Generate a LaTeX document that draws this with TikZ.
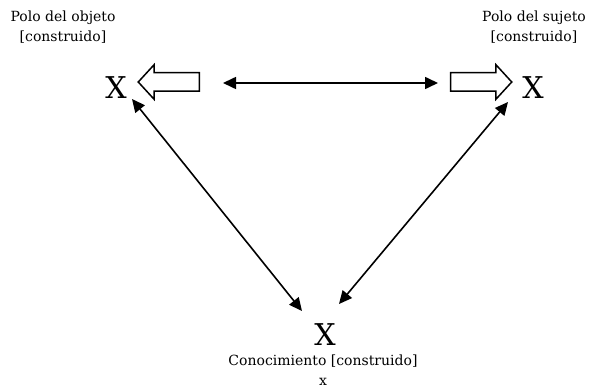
\documentclass[tikz,border=0pt]{standalone}
\usepackage{fontspec}
\setmainfont{DejaVu Serif}
\usetikzlibrary{arrows.meta,shapes.arrows}

\tikzset{
  pole/.style={font=\fontsize{30}{30}\selectfont, inner sep=0pt},
  lbl/.style={font=\fontsize{14}{20}\selectfont, align=center, inner sep=0pt},
  hollow/.style={single arrow, draw, line width=1.5pt, fill=white, inner sep=8.5pt,
    minimum height=61pt, single arrow head extend=8pt,
    single arrow tip angle=95}
}

\begin{document}
\begin{tikzpicture}[x=1pt, y=-1pt]
\useasboundingbox (0,0) rectangle (593,390);

% the three poles
\node [pole] (obj) at (116,88) {X};
\node [pole] (suj) at (533,88) {X};
\node [pole] (con) at (325,335) {X};

\node [lbl] (objl) at (63,27) {Polo del objeto\\{}[construido]};
\node [lbl] (sujl) at (534,27) {Polo del sujeto\\{}[construido]};
\node [lbl] (conl) at (323,370) {Conocimiento [construido]\\x};

% hollow arrows
\node [hollow, shape border rotate=180] (objh) at (173,82) {};
\node [hollow] (sujh) at (477,82) {};

\coordinate (ml) at (223,83);
\coordinate (mr) at (438,83);
\coordinate (dl) at (302,311);
\coordinate (dr) at (339,304);
\coordinate (ul) at (132,99);
\coordinate (ur) at (508,102);

\begin{scope}[line width=1.6pt, {Triangle[length=13pt,width=12pt]}-{Triangle[length=13pt,width=12pt]}]
\draw (ml) -- (mr);
\draw (ul) -- (dl);
\draw (ur) -- (dr);
\end{scope}

\end{tikzpicture}
\end{document}
